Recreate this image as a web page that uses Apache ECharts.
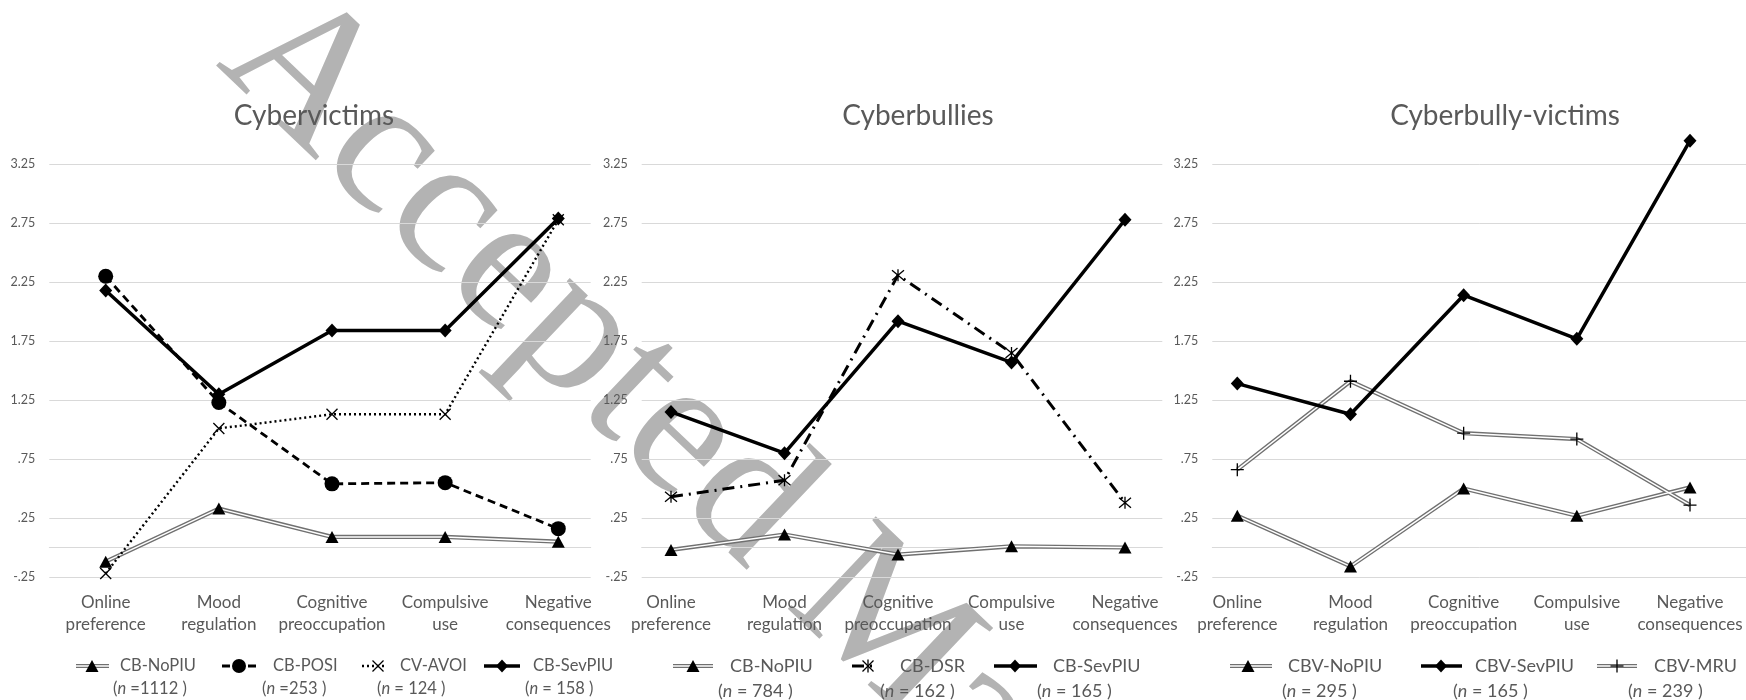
<!DOCTYPE html>
<html>
<head>
<meta charset="utf-8">
<script src="https://cdn.jsdelivr.net/npm/echarts@6/dist/echarts.min.js"></script>
<style>
  html, body { margin: 0; padding: 0; background: #ffffff; }
  #chart { width: 1746px; height: 700px; }
</style>
</head>
<body>
<div id="chart"></div>
<script>
// ---- data -------------------------------------------------------------
const categories = ['Online\npreference', 'Mood\nregulation', 'Cognitive\npreoccupation', 'Compulsive\nuse', 'Negative\nconsequences'];
const yMin = -0.25;
const yMax = 3.25;
const yStep = 0.5;

// Cybervictims
const cvNoPIU  = [-0.12, 0.33, 0.09, 0.09, 0.05];
const cvPOSI   = [2.30, 1.23, 0.54, 0.55, 0.16];
const cvAVOI   = [-0.22, 1.01, 1.13, 1.13, 2.78];
const cvSevPIU = [2.18, 1.30, 1.84, 1.84, 2.79];
const cvNames  = ['CB-NoPIU', 'CB-POSI', 'CV-AVOI', 'CB-SevPIU'];
const cvSizes  = ['=1112', '=253', '= 124', '= 158'];

// Cyberbullies
const cbNoPIU  = [-0.02, 0.11, -0.06, 0.01, 0.00];
const cbDSR    = [0.43, 0.57, 2.31, 1.65, 0.38];
const cbSevPIU = [1.15, 0.80, 1.92, 1.57, 2.78];
const cbNames  = ['CB-NoPIU', 'CB-DSR', 'CB-SevPIU'];
const cbSizes  = ['= 784', '= 162', '= 165'];

// Cyberbully-victims
const cbvNoPIU  = [0.27, -0.16, 0.50, 0.27, 0.51];
const cbvSevPIU = [1.39, 1.13, 2.14, 1.77, 3.45];
const cbvMRU    = [0.66, 1.41, 0.97, 0.92, 0.36];
const cbvNames  = ['CBV-NoPIU', 'CBV-SevPIU', 'CBV-MRU'];
const cbvSizes  = ['= 295', '= 165', '= 239'];

const panelTitles = ['Cybervictims', 'Cyberbullies', 'Cyberbully-victims'];

// ---- styling ----------------------------------------------------------
const FONT = 'Lato';
const TXT = '#595959';
const GRIDLINE = '#d9d9d9';
const DOUBLE_OUTER = '#707070';
const PLOT_TOP = 164.3;
const PLOT_H = 412.7;

const MARK = {
  triangle: 'triangle',
  diamond: 'diamond',
  circle: 'circle',
  cross: 'path://M0,0L10,10M10,0L0,10',
  plus: 'path://M5,0L5,10M0,5L10,5',
  star: 'path://M0,0L10,10M10,0L0,10M5,-1L5,11'
};

// horizontal layout of each panel: gridline span and first/last category centre
const layout = [
  { band: [49.3, 590.7], cats: [105.7, 558.3], titleX: 314 },
  { band: [641.7, 1162.3], cats: [671, 1125], titleX: 918 },
  { band: [1212.3, 1746], cats: [1237.3, 1690], titleX: 1505 }
];

function fmtTick(v) {
  return v.toFixed(2).replace(/^(-?)0\./, '$1.');
}

const grids = [], xAxes = [], yAxes = [], series = [];

layout.forEach((p, k) => {
  // background grid: gridlines, y labels and the zero line
  grids.push({ left: p.band[0], width: p.band[1] - p.band[0], top: PLOT_TOP, height: PLOT_H, containLabel: false });
  // data grid: categories centred on the markers
  grids.push({ left: p.cats[0], width: p.cats[1] - p.cats[0], top: PLOT_TOP, height: PLOT_H, containLabel: false });
  const gBack = 2 * k, gData = 2 * k + 1;
  xAxes.push({
    type: 'category', gridIndex: gBack, data: [''], boundaryGap: false,
    axisLine: { show: true, onZero: true, lineStyle: { color: GRIDLINE, width: 1 } },
    axisTick: { show: false }, axisLabel: { show: false }, splitLine: { show: false }
  });
  yAxes.push({
    type: 'value', gridIndex: gBack, min: yMin, max: yMax, interval: yStep,
    axisLine: { show: false }, axisTick: { show: false },
    splitLine: { show: true, lineStyle: { color: GRIDLINE, width: 1 } },
    axisLabel: { formatter: fmtTick, color: TXT, fontFamily: FONT, fontSize: 12.5, margin: 14 }
  });
  xAxes.push({
    type: 'category', gridIndex: gData, data: categories, boundaryGap: false,
    axisLine: { show: false, onZero: false }, axisTick: { show: false }, splitLine: { show: false },
    axisLabel: { interval: 0, color: TXT, fontFamily: FONT, fontSize: 17, lineHeight: 22.3, margin: 14 }
  });
  yAxes.push({ type: 'value', gridIndex: gData, min: yMin, max: yMax, show: false, splitLine: { show: false } });
});

function plain(name, data, k, opt) {
  return {
    name, type: 'line', data, xAxisIndex: 2 * k + 1, yAxisIndex: 2 * k + 1,
    clip: false, silent: true, z: opt.z || 5,
    lineStyle: { color: '#000', width: opt.width, type: opt.dash || 'solid', cap: 'butt' },
    symbol: opt.symbol, symbolSize: opt.size, showSymbol: true,
    itemStyle: opt.hollow
      ? { color: 'rgba(0,0,0,0)', borderColor: '#000', borderWidth: 1.3 }
      : { color: '#000', borderWidth: 0 }
  };
}

function doubled(name, data, k, symbol, size, hollow) {
  const common = { type: 'line', data, xAxisIndex: 2 * k + 1, yAxisIndex: 2 * k + 1, clip: false, silent: true };
  return [
    Object.assign({}, common, { name, z: 3, symbol: 'none', lineStyle: { color: DOUBLE_OUTER, width: 4.2 } }),
    Object.assign({}, common, { name: name + ' inner', z: 4, symbol: 'none', lineStyle: { color: '#ffffff', width: 1.5 } }),
    Object.assign({}, common, {
      name: name + ' markers', z: 6, symbol, symbolSize: size,
      lineStyle: { width: 0, opacity: 0 },
      itemStyle: hollow
        ? { color: 'rgba(0,0,0,0)', borderColor: '#000', borderWidth: 1.3 }
        : { color: '#000', borderWidth: 0 }
    })
  ];
}

const TRI = [13, 12];
const DIA = [13, 14];

// Cybervictims
series.push(...doubled(cvNames[0], cvNoPIU, 0, MARK.triangle, TRI));
series.push(plain(cvNames[1], cvPOSI, 0, { width: 2.8, dash: [8, 5], symbol: MARK.circle, size: 15 }));
series.push(plain(cvNames[2], cvAVOI, 0, { width: 2.4, dash: [2, 3], symbol: MARK.cross, size: 11, hollow: true }));
series.push(plain(cvNames[3], cvSevPIU, 0, { width: 3.5, symbol: MARK.diamond, size: DIA, z: 7 }));
// Cyberbullies
series.push(...doubled(cbNames[0], cbNoPIU, 1, MARK.triangle, TRI));
series.push(plain(cbNames[1], cbDSR, 1, { width: 3, dash: [12, 6, 2, 6], symbol: MARK.star, size: 12, hollow: true }));
series.push(plain(cbNames[2], cbSevPIU, 1, { width: 3.5, symbol: MARK.diamond, size: DIA, z: 7 }));
// Cyberbully-victims
series.push(...doubled(cbvNames[0], cbvNoPIU, 2, MARK.triangle, TRI));
series.push(plain(cbvNames[1], cbvSevPIU, 2, { width: 3.5, symbol: MARK.diamond, size: DIA, z: 7 }));
series.push(...doubled(cbvNames[2], cbvMRU, 2, MARK.plus, 13, true));

// ---- legend keys, titles and watermark as graphic elements -----------
function keyLine(style, x0, x1, y) {
  const seg = (w, c, dash) => ({
    type: 'line', z: 100, silent: true,
    shape: { x1: x0, y1: y, x2: x1, y2: y },
    style: { stroke: c, lineWidth: w, lineDash: dash || null }
  });
  if (style === 'double') return [seg(4.2, DOUBLE_OUTER), seg(1.5, '#ffffff')];
  if (style === 'solid') return [seg(3.5, '#000')];
  if (style === 'dashed') return [seg(2.8, '#000', [8, 5])];
  if (style === 'dotted') return [seg(2.4, '#000', [2, 3])];
  if (style === 'dashdot') return [seg(3, '#000', [12, 6, 2, 6])];
  return [];
}

function keyMark(kind, cx, cy) {
  const stroke = (pts) => pts.map(([a, b, c, d]) => ({
    type: 'line', z: 101, silent: true,
    shape: { x1: cx + a, y1: cy + b, x2: cx + c, y2: cy + d },
    style: { stroke: '#000', lineWidth: 1.3 }
  }));
  if (kind === 'triangle') return [{ type: 'polygon', z: 101, silent: true, shape: { points: [[cx, cy - 6], [cx + 6.5, cy + 6], [cx - 6.5, cy + 6]] }, style: { fill: '#000' } }];
  if (kind === 'diamond') return [{ type: 'polygon', z: 101, silent: true, shape: { points: [[cx, cy - 6.5], [cx + 6, cy], [cx, cy + 6.5], [cx - 6, cy]] }, style: { fill: '#000' } }];
  if (kind === 'circle') return [{ type: 'circle', z: 101, silent: true, shape: { cx, cy, r: 7 }, style: { fill: '#000' } }];
  if (kind === 'cross') return stroke([[-5.5, -5.5, 5.5, 5.5], [5.5, -5.5, -5.5, 5.5]]);
  if (kind === 'plus') return stroke([[0, -6.5, 0, 6.5], [-6.5, 0, 6.5, 0]]);
  if (kind === 'star') return stroke([[-5.5, -5.5, 5.5, 5.5], [5.5, -5.5, -5.5, 5.5], [0, -6.5, 0, 6.5]]);
  return [];
}

function keyText(str, x, y, size) {
  return { type: 'text', z: 102, silent: true, x, y,
    style: { text: str, fill: TXT, fontFamily: FONT, fontSize: size, align: 'left', verticalAlign: 'middle' } };
}

function keySize(str, x, y, size) {
  return { type: 'text', z: 102, silent: true, x, y,
    style: { text: '({i|n} ' + str + ' )', fill: TXT, fontFamily: FONT, fontSize: size, align: 'left', verticalAlign: 'middle',
      rich: { i: { fontStyle: 'italic', fill: TXT, fontFamily: FONT, fontSize: size } } } };
}

// [line start, line end, marker x, label x, size-label x]
const keyPlaces = [
  [[76, 109, 92, 120, 113], [222, 258, 239, 273, 262], [362, 387, 378, 400, 377], [484, 520, 502, 533, 525]],
  [[673, 713, 693, 730, 718], [852, 877, 868, 900, 880], [994, 1037, 1015, 1053, 1037]],
  [[1230, 1272, 1248, 1288, 1282], [1421, 1462, 1441, 1475, 1453], [1597, 1637, 1617, 1654, 1628]]
];
const keyStyles = [
  [['double', 'triangle'], ['dashed', 'circle'], ['dotted', 'cross'], ['solid', 'diamond']],
  [['double', 'triangle'], ['dashdot', 'star'], ['solid', 'diamond']],
  [['double', 'triangle'], ['solid', 'diamond'], ['double', 'plus']]
];
const keyNames = [cvNames, cbNames, cbvNames];
const keyCounts = [cvSizes, cbSizes, cbvSizes];
const keyFont = [16.5, 18, 18];
const keyRow2 = [689, 691.5, 691.5];

const graphics = [];
keyPlaces.forEach((places, k) => {
  places.forEach((pl, j) => {
    const [st, mk] = keyStyles[k][j];
    graphics.push(...keyLine(st, pl[0], pl[1], 666));
    graphics.push(...keyMark(mk, pl[2], 666));
    graphics.push(keyText(keyNames[k][j], pl[3], 666, keyFont[k]));
    graphics.push(keySize(keyCounts[k][j], pl[4], keyRow2[k], keyFont[k]));
  });
});

layout.forEach((p, k) => {
  graphics.push({ type: 'text', z: 102, silent: true, x: p.titleX, y: 116,
    style: { text: panelTitles[k], fill: TXT, fontFamily: FONT, fontSize: 28, align: 'center', verticalAlign: 'middle' } });
});

graphics.push({
  type: 'text', z: -100, silent: true, x: 250, y: 27, rotation: -0.76,
  style: { text: 'Accepted Manuscript', fill: '#b3b3b3', fontFamily: 'Liberation Serif', fontSize: 195, align: 'left', verticalAlign: 'middle' }
});

const chart = echarts.init(document.getElementById('chart'), null, { renderer: 'canvas', width: 1746, height: 700 });
chart.setOption({
  animation: false,
  backgroundColor: '#ffffff',
  textStyle: { fontFamily: FONT },
  grid: grids,
  xAxis: xAxes,
  yAxis: yAxes,
  series,
  graphic: { elements: graphics }
});
</script>
</body>
</html>
